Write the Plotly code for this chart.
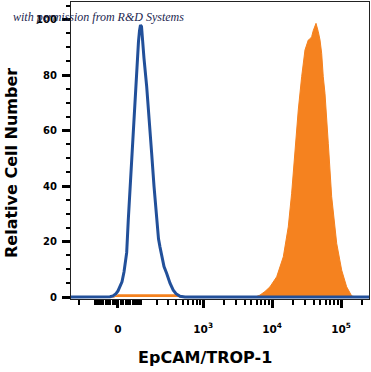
import numpy as np
import plotly.graph_objects as go

# Display transform (arcsinh-like biexponential) used for the axis: decades units
W = 117.0
def disp(v):
    return float(np.arcsinh(np.asarray(v) / W) / np.log(10))

# ---- data (x in display channel units, y = relative cell number) ----
blue_x = [-0.70, -0.188, -0.116, -0.072, -0.029, 0.0, 0.029, 0.058, 0.087, 0.126, 0.149,
          0.174, 0.199, 0.222, 0.242, 0.261, 0.280, 0.297, 0.312, 0.326, 0.341,
          0.355, 0.377, 0.416, 0.449, 0.488, 0.522, 0.561, 0.587, 0.609, 0.638,
          0.667, 0.706, 0.754, 0.801, 0.841, 0.899, 0.971, 3.70]
blue_y = [0, 0, 0.1, 0.4, 1.2, 2.2, 3.6, 5.5, 9, 16, 27.7,
          39, 51.8, 62, 70, 77, 86, 92, 96, 98, 97.5,
          94, 86, 75.8, 63, 51.8, 40, 27.7, 21, 18, 14,
          11, 8.5, 5, 2.5, 1.2, 0.3, 0, 0]

orange_x = [-0.70, -0.05, 0.0, 0.85, 0.90, 1.986, 2.058, 2.130, 2.203, 2.300, 2.396,
            2.468, 2.517, 2.565, 2.613, 2.662, 2.710, 2.758, 2.783, 2.807,
            2.830, 2.870, 2.891, 2.903, 2.928, 2.952, 2.975, 3.000, 3.048,
            3.097, 3.170, 3.242, 3.314, 3.387, 3.449, 3.70]
orange_y = [0, 0, 0.8, 0.8, 0, 0, 0.7, 2, 3.7, 7.3, 14.5,
            25.3, 37.4, 53, 67.4, 79.4, 89, 92.6, 93, 93.8,
            96, 98.6, 97, 95.6, 92.6, 87.8, 79.4, 73.4, 55.4,
            36.2, 19.3, 9.7, 3.7, 0.4, 0, 0]

major_vals = [0, 1e3, 1e4, 1e5]
major_text = ["0", "10<sup>3</sup>", "10<sup>4</sup>", "10<sup>5</sup>"]
minor_vals = ([-200, -100] + [-k * 10 for k in range(1, 10)] + [k * 10 for k in range(1, 10)]
              + [k * 100 for k in range(1, 10)] + [k * 1000 for k in range(2, 10)]
              + [k * 10000 for k in range(2, 10)] + [200000])

y_major = [0, 20, 40, 60, 80, 100]

BLUE = "#22509a"
ORANGE = "#f5821f"

fig = go.Figure()
fig.add_trace(go.Scatter(x=orange_x, y=orange_y, mode="lines", fill="tozeroy",
                         fillcolor=ORANGE, line=dict(color=ORANGE, width=1),
                         showlegend=False, hoverinfo="skip"))
fig.add_trace(go.Scatter(x=blue_x, y=blue_y, mode="lines",
                         line=dict(color=BLUE, width=3), showlegend=False,
                         hoverinfo="skip"))

L, R, T, B = 71, 2, 2, 73
PW, PH = 371 - L - R, 372 - T - B

def px_x(p):
    return (p - L) / PW

def px_y(p):
    return (T + PH - p) / PH

fig.update_layout(
    width=371, height=372,
    margin=dict(l=L, r=R, t=T, b=B, pad=0),
    paper_bgcolor="white", plot_bgcolor="white",
    xaxis=dict(
        range=[-0.681, 3.638], showgrid=False, zeroline=False,
        showline=True, mirror=True, linecolor="#222", linewidth=1,
        tickmode="array", tickvals=[disp(v) for v in major_vals], ticktext=major_text,
        ticks="outside", ticklen=8, tickwidth=2.5, tickcolor="black",
        tickfont=dict(family="DejaVu Sans", size=10.5, color="black", weight="bold"),
        ticklabelstandoff=12,
        minor=dict(tickmode="array", tickvals=[disp(v) for v in minor_vals],
                   ticks="outside", ticklen=5, tickwidth=1.5, tickcolor="black"),
    ),
    yaxis=dict(
        range=[-0.7, 106.3], showgrid=False, zeroline=False,
        showline=True, mirror=True, linecolor="#222", linewidth=1.2,
        tickmode="array", tickvals=y_major,
        ticks="outside", ticklen=8, tickwidth=2.5, tickcolor="black",
        tickfont=dict(family="DejaVu Sans", size=10, color="black", weight="bold"),
        ticklabelstandoff=3,
        minor=dict(dtick=5, ticks="outside", ticklen=4, tickwidth=1.5, tickcolor="black"),
    ),
    annotations=[
        dict(text="EpCAM/TROP-1", xref="paper", yref="paper", x=px_x(205), y=px_y(357),
             xanchor="center", yanchor="middle", showarrow=False,
             font=dict(family="DejaVu Sans", size=16, color="black", weight="bold")),
        dict(text="Relative Cell Number", xref="paper", yref="paper", x=px_x(11), y=px_y(163),
             xanchor="center", yanchor="middle", showarrow=False, textangle=-90,
             font=dict(family="DejaVu Sans", size=16, color="black", weight="bold")),
        dict(text="with permission from R&amp;D Systems", xref="paper", yref="paper",
             x=px_x(11), y=px_y(17), xanchor="left", yanchor="middle", showarrow=False,
             font=dict(family="Liberation Serif", size=12, color="#1c2650", style="italic")),
    ],
)

fig.write_html("out.html", config={"displayModeBar": False},
               post_script="document.body.style.margin='0px';document.body.style.overflow='hidden';")
